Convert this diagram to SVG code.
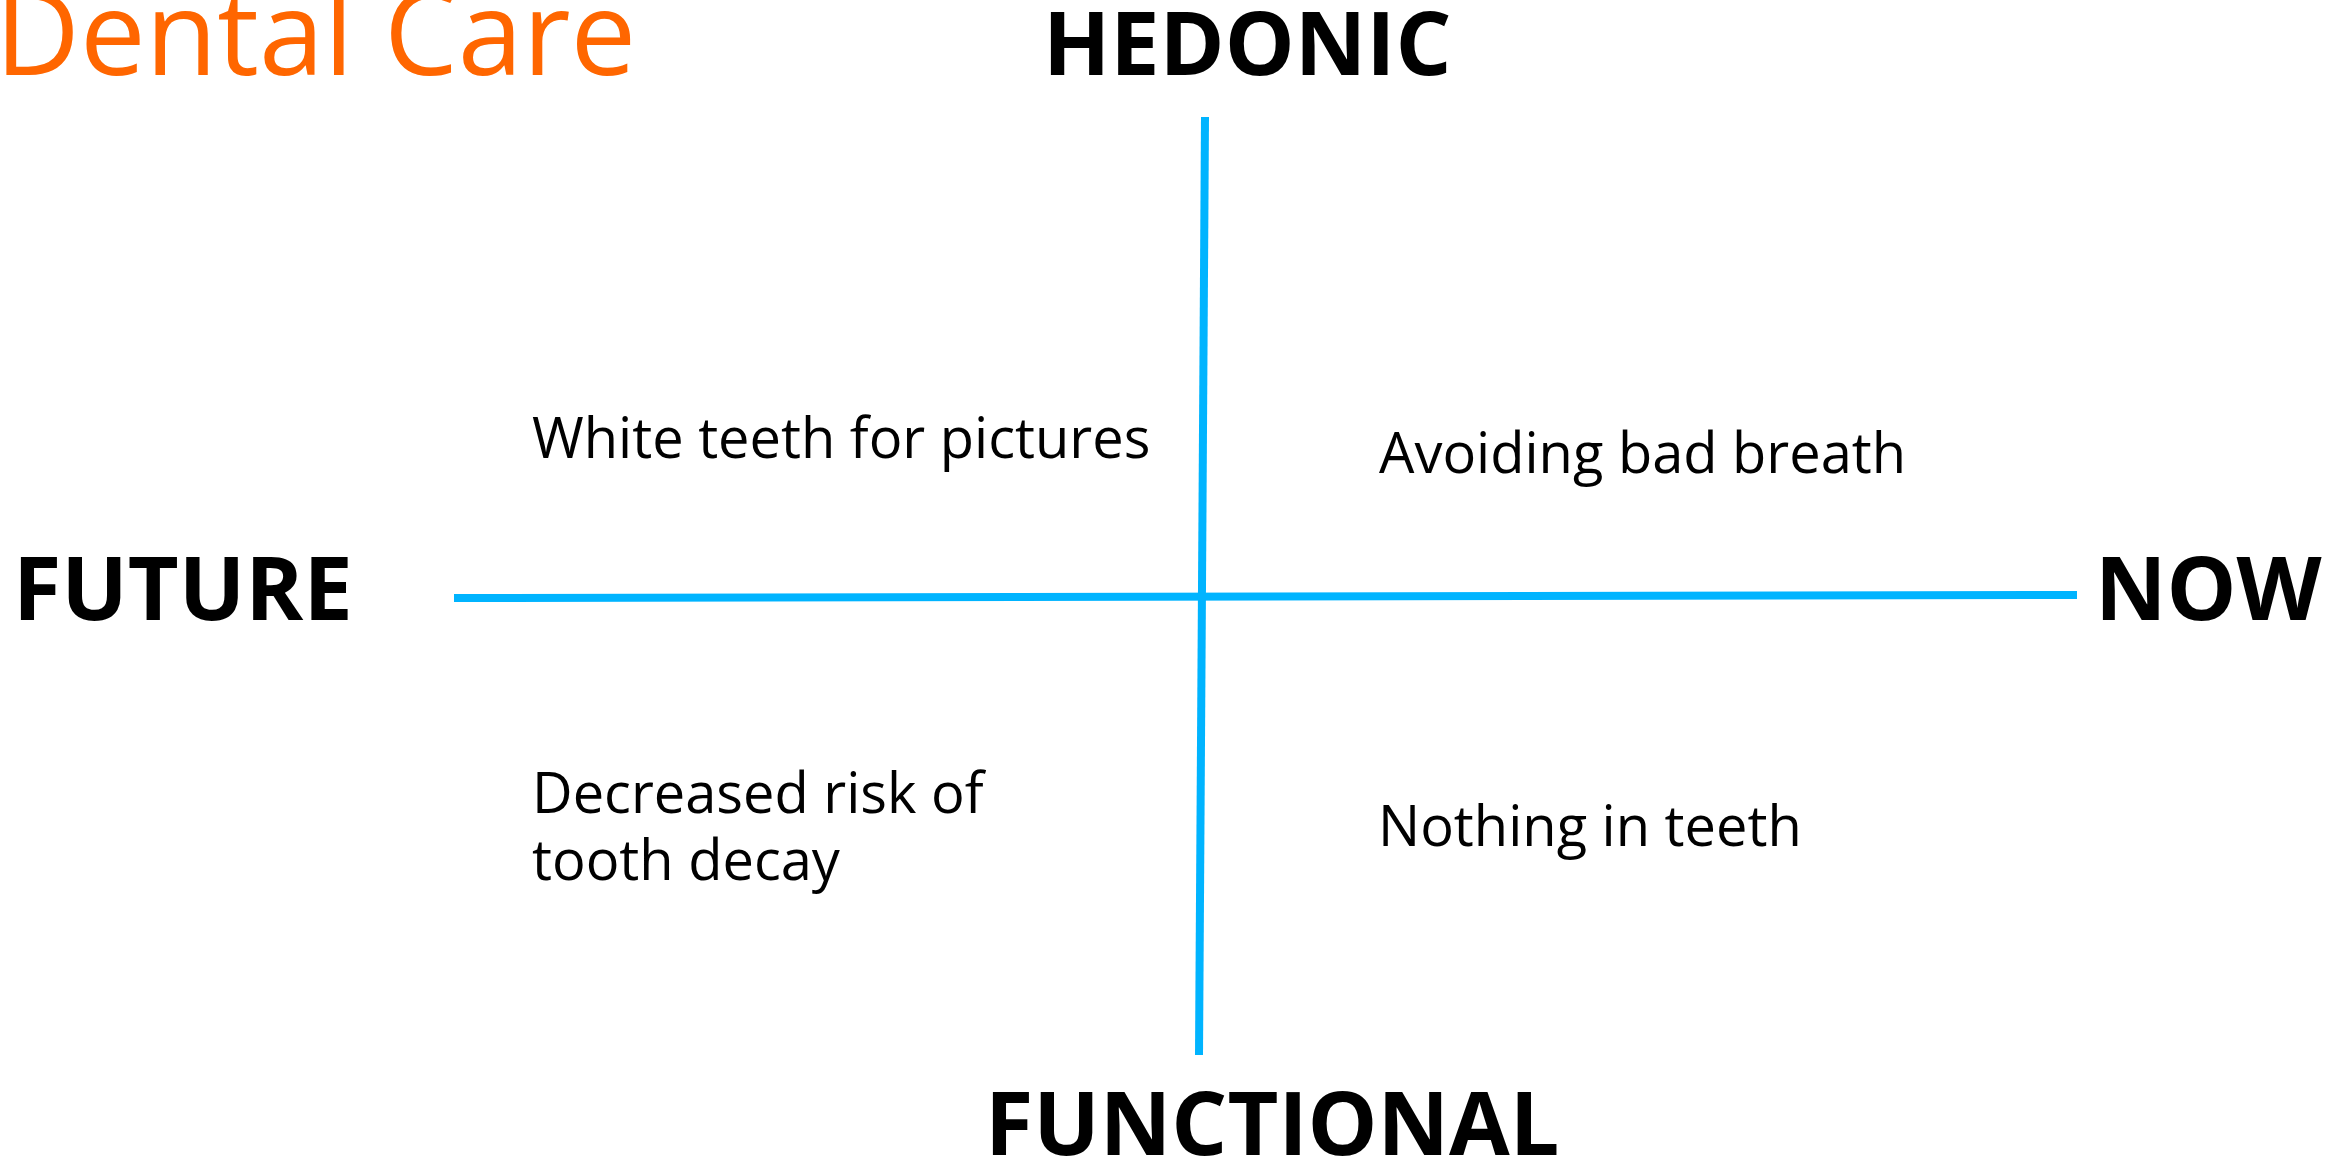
<svg xmlns="http://www.w3.org/2000/svg" width="2348" height="1158" viewBox="0 0 2348 1158">
<style>
.title{font-family:"Open Sans","Liberation Sans",sans-serif;font-size:117px;fill:#FF6600}
.axis{font-family:"Open Sans","Liberation Sans",sans-serif;font-size:88px;font-weight:700;fill:#000}
.item{font-family:"Open Sans","Liberation Sans",sans-serif;font-size:56px;fill:#000}
.ax{stroke:#00B4FF;stroke-width:8;fill:none}
</style>
<rect width="2348" height="1158" fill="#fff"/>
<g id="title"><text class="title" x="-5" y="75">Dental Care</text></g>
<g id="connectors">
<line class="ax" x1="454" y1="598" x2="2077" y2="595"/>
<line class="ax" x1="1205" y1="117" x2="1199" y2="1055"/>
</g>
<g id="hedonic"><text class="axis" x="1043" y="75">HEDONIC</text></g>
<g id="functional"><text class="axis" x="985" y="1155">FUNCTIONAL</text></g>
<g id="future"><text class="axis" x="13" y="620">FUTURE</text></g>
<g id="now"><text class="axis" x="2095" y="620">NOW</text></g>
<g id="white-teeth"><text class="item" x="532" y="458">White teeth for pictures</text></g>
<g id="bad-breath"><text class="item" x="1379" y="473">Avoiding bad breath</text></g>
<g id="tooth-decay"><text class="item" x="532" y="813">Decreased risk of</text><text class="item" x="532" y="880">tooth decay</text></g>
<g id="nothing-in-teeth"><text class="item" x="1378" y="846">Nothing in teeth</text></g>
</svg>
